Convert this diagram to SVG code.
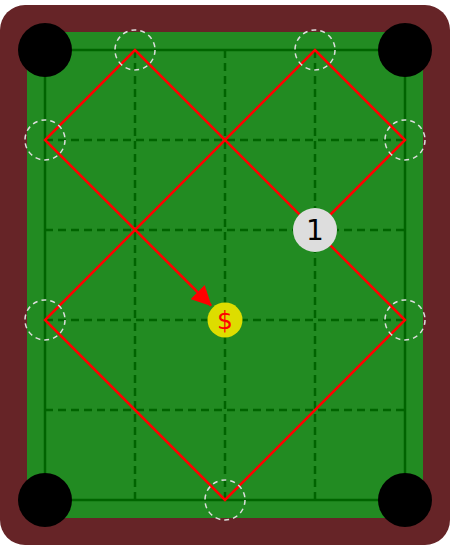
<svg xmlns="http://www.w3.org/2000/svg" width="450" height="550" viewBox="0 0 450 550">
  <style>
    .grid { stroke: #006400; stroke-width: 2.5; stroke-dasharray: 8,5; fill: none; }
    .border { stroke: #006400; stroke-width: 2.5; fill: none; }
    .pocket { fill: #000000; }
    .spot { fill: none; stroke: #dddddd; stroke-width: 1.5; stroke-dasharray: 5,4; }
    .path { fill: none; stroke: #ff0000; stroke-width: 2.5; stroke-linejoin: miter; }
    .lbl { font-family: "DejaVu Sans", sans-serif; text-anchor: middle; }
  </style>
  <defs>
    <marker id="arrow" markerUnits="userSpaceOnUse" markerWidth="20" markerHeight="20" refX="19" refY="10" orient="auto">
      <path d="M0,0 L20,10 L0,20 z" fill="#ff0000"/>
    </marker>
  </defs>
  <g id="table">
    <rect x="0" y="5" width="450" height="540" rx="25" ry="25" fill="#662427"/>
    <rect x="27" y="32" width="396" height="486" fill="#228b22"/>
    <rect class="border" x="45" y="50" width="360" height="450"/>
    <g id="grid">
      <line class="grid" x1="135" y1="50" x2="135" y2="500"/>
      <line class="grid" x1="225" y1="50" x2="225" y2="500"/>
      <line class="grid" x1="315" y1="50" x2="315" y2="500"/>
      <line class="grid" x1="45" y1="140" x2="405" y2="140"/>
      <line class="grid" x1="45" y1="230" x2="405" y2="230"/>
      <line class="grid" x1="45" y1="320" x2="405" y2="320"/>
      <line class="grid" x1="45" y1="410" x2="405" y2="410"/>
    </g>
  </g>
  <g id="pockets">
    <circle id="pocket-tl" class="pocket" cx="45" cy="50" r="27"/>
    <circle id="pocket-tr" class="pocket" cx="405" cy="50" r="27"/>
    <circle id="pocket-bl" class="pocket" cx="45" cy="500" r="27"/>
    <circle id="pocket-br" class="pocket" cx="405" cy="500" r="27"/>
  </g>
  <g id="connectors">
    <path class="path" d="M315,230 L405,140 L315,50 L45,320 L225,500 L405,320 L135,50 L45,140 L211,305.5" marker-end="url(#arrow)"/>
  </g>
  <g id="spots">
    <circle class="spot" cx="135" cy="50" r="20"/>
    <circle class="spot" cx="315" cy="50" r="20"/>
    <circle class="spot" cx="45" cy="140" r="20"/>
    <circle class="spot" cx="405" cy="140" r="20"/>
    <circle class="spot" cx="45" cy="320" r="20"/>
    <circle class="spot" cx="405" cy="320" r="20"/>
    <circle class="spot" cx="225" cy="500" r="20"/>
  </g>
  <g id="ball-1">
    <circle cx="315" cy="230" r="22" fill="#dddddd"/>
    <text class="lbl" x="315" y="240" font-size="28" fill="#000000">1</text>
  </g>
  <g id="ball-cue">
    <circle cx="225" cy="320" r="17.5" fill="#dddd00"/>
    <text class="lbl" x="225" y="329" font-size="25" fill="#ff0000">$</text>
  </g>
</svg>
